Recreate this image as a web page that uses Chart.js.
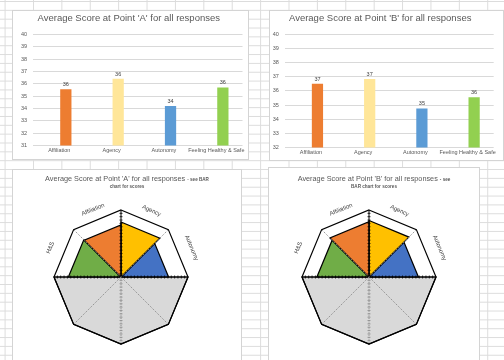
<!DOCTYPE html>
<html lang="en">
<head>
<meta charset="UTF-8">
<title>Average Score at Point A and B</title>
<script src="https://cdn.jsdelivr.net/npm/chart.js"></script>
<style>
    html, body { margin: 0; padding: 0; }
    body {
        width: 504px;
        height: 360px;
        overflow: hidden;
        position: relative;
        background-color: #fff;
        background-image:
            linear-gradient(to right, #dcdcdc 1px, transparent 1px),
            linear-gradient(to bottom, #dcdcdc 1px, transparent 1px);
        background-size: 28.4px 8.85px;
        background-position: 4.6px 1px;
        font-family: "Liberation Sans", Arial, sans-serif;
    }
    .box {
        position: absolute;
        background: #fff;
        border: 1px solid #d4d4d4;
        box-sizing: border-box;
    }
    .box canvas { position: absolute; left: 0; top: 0; }
    .rtitle {
        position: absolute;
        left: 0;
        right: 0;
        text-align: center;
        color: #595959;
        white-space: nowrap;
    }
    .rtitle.main { font-size: 7.3px; line-height: 9px; }
    .rtitle small, .rtitle.sub { font-size: 4.6px; line-height: 6px; font-weight: bold; }
</style>
</head>
<body>
    <div class="box" style="left:12px; top:10px; width:237px; height:150px;">
        <canvas id="barA" width="235" height="148"></canvas>
    </div>
    <div class="box" style="left:269px; top:10px; width:235px; height:151px;">
        <canvas id="barB" width="237" height="149" style="left:-4px;"></canvas>
    </div>
    <div class="box" style="left:12px; top:169px; width:230px; height:195px;">
        <canvas id="radarA" width="228" height="193"></canvas>
        <div class="rtitle main" style="top:3.5px;">Average Score at Point 'A' for all responses <small>- see BAR</small></div>
        <div class="rtitle sub" style="top:14px;">chart for scores</div>
    </div>
    <div class="box" style="left:268px; top:167px; width:212px; height:197px;">
        <canvas id="radarB" width="210" height="195"></canvas>
        <div class="rtitle main" style="top:5.5px;">Average Score at Point 'B' for all responses <small>- see</small></div>
        <div class="rtitle sub" style="top:15.5px;">BAR chart for scores</div>
    </div>

<script>
    // categories and scores
    const categories = ['Affiliation', 'Agency', 'Autonomy', 'Feeling Healthy & Safe'];
    const scoresA = [35.55, 36.4, 34.2, 35.7];
    const scoresB = [36.5, 36.85, 34.75, 35.55];
    const axisA = [31, 40];
    const axisB = [32, 40];
    const barColors = ['#ED7D31', '#FFE699', '#5B9BD5', '#92D050'];

    // radar (octagon) charts: 8 spokes, top half = the four scores
    const radarNames = ['Affiliation', 'Agency', 'Autonomy', 'H&S'];
    const radarColors = ['#ED7D31', '#FFC000', '#4472C4', '#70AD47'];
    const spokes = ['s0', 's1', 's2', 's3', 's4', 's5', 's6', 's7'];
    const wedgeSpokes = [[7, 0], [0, 1], [1, 2], [6, 7]];
    const radarRange = [20, 40];
    const lowerHalf = [20, 20, 40, 40, 40, 40, 40, 20];

    const FONT = '"Liberation Sans", Arial, sans-serif';
    // where the wedge names sit (spoke position, radius factor)
    const nameSpoke = [7.5, 0.55, 1.5, 6.5];
    const nameRadius = [1.09, 1.09, 1.14, 1.14];

    const valueLabels = {
        id: 'valueLabels',
        afterDatasetsDraw(chart) {
            const ctx = chart.ctx;
            const values = chart.data.datasets[1].data;
            ctx.save();
            ctx.font = '5.5px ' + FONT;
            ctx.fillStyle = '#404040';
            ctx.textAlign = 'center';
            ctx.textBaseline = 'bottom';
            chart.getDatasetMeta(1).data.forEach(function(bar, i) {
                ctx.fillText(Math.round(values[i]), bar.x, bar.y - 2);
            });
            ctx.restore();
        }
    };

    function barChart(id, values, range, title, pad) {
        return new Chart(document.getElementById(id), {
            type: 'bar',
            data: {
                labels: categories,
                datasets: [{
                    // empty first series, as in the sheet: pushes the bars right of the label
                    data: categories.map(function() { return null; }),
                    categoryPercentage: 0.5,
                    barPercentage: 0.86
                }, {
                    data: values,
                    backgroundColor: barColors,
                    categoryPercentage: 0.5,
                    barPercentage: 0.86
                }]
            },
            options: {
                responsive: false,
                animation: false,
                layout: { padding: pad },
                plugins: {
                    legend: { display: false },
                    tooltip: { enabled: false },
                    title: {
                        display: true,
                        text: title,
                        color: '#595959',
                        font: { family: FONT, size: 9.5, weight: 'normal' },
                        padding: { top: 1.5, bottom: 10.5 }
                    }
                },
                scales: {
                    x: {
                        grid: { display: false, drawTicks: false },
                        border: { display: false },
                        ticks: { color: '#595959', font: { family: FONT, size: 5.5 }, padding: 2, maxRotation: 0, autoSkip: false }
                    },
                    y: {
                        min: range[0],
                        max: range[1],
                        grid: { color: '#d9d9d9', drawTicks: false },
                        border: { display: false },
                        ticks: { stepSize: 1, color: '#595959', font: { family: FONT, size: 5.5 }, padding: 6 }
                    }
                }
            },
            plugins: [valueLabels]
        });
    }

    const radarExtras = {
        id: 'radarExtras',
        afterDraw(chart) {
            const scale = chart.scales.r;
            const ctx = chart.ctx;
            ctx.save();

            // small axis tick marks along the solid spokes
            [0, 2, 4, 6].forEach(function(s) {
                const ang = scale.getIndexAngle(s);
                const nx = Math.cos(ang), ny = Math.sin(ang);
                ctx.strokeStyle = s === 4 ? '#8c8c8c' : '#000';
                ctx.lineWidth = 0.8;
                for (let v = radarRange[0] + 1; v < radarRange[1]; v++) {
                    const p = scale.getPointPositionForValue(s, v);
                    ctx.beginPath();
                    ctx.moveTo(p.x - nx * 1.5, p.y - ny * 1.5);
                    ctx.lineTo(p.x + nx * 1.5, p.y + ny * 1.5);
                    ctx.stroke();
                }
            });

            ctx.font = '6px ' + FONT;
            ctx.fillStyle = '#404040';
            ctx.textAlign = 'center';
            ctx.textBaseline = 'middle';
            radarNames.forEach(function(name, i) {
                const p = scale.getPointPosition(nameSpoke[i], scale.drawingArea * nameRadius[i]);
                ctx.save();
                ctx.translate(p.x, p.y);
                ctx.rotate(scale.getIndexAngle(nameSpoke[i]));
                ctx.fillText(name, 0, 0);
                ctx.restore();
            });
            ctx.restore();
        }
    };

    function radarChart(id, values, pad) {
        const datasets = radarNames.map(function(name, i) {
            const data = spokes.map(function() { return radarRange[0]; });
            wedgeSpokes[i].forEach(function(s) { data[s] = values[i]; });
            return {
                label: name,
                data: data,
                backgroundColor: radarColors[i],
                borderColor: '#000',
                borderWidth: 1.2,
                fill: 'start',
                pointRadius: 0
            };
        });
        datasets.push({
            label: 'lower',
            data: lowerHalf,
            backgroundColor: '#d9d9d9',
            borderColor: '#000',
            borderWidth: 1.2,
            fill: 'start',
            pointRadius: 0
        });

        return new Chart(document.getElementById(id), {
            type: 'radar',
            data: { labels: spokes, datasets: datasets },
            options: {
                responsive: false,
                animation: false,
                layout: { padding: pad },
                plugins: { legend: { display: false }, tooltip: { enabled: false } },
                scales: {
                    r: {
                        min: radarRange[0],
                        max: radarRange[1],
                        ticks: { display: false, stepSize: 5 },
                        pointLabels: { display: false },
                        grid: {
                            z: 1,
                            lineWidth: 1.2,
                            color: function(c) { return c.tick && c.tick.value === radarRange[1] ? '#000' : 'rgba(0,0,0,0)'; }
                        },
                        angleLines: {
                            lineWidth: 1,
                            color: function(c) { return [0, 2, 6].includes(c.index) ? '#000' : '#8c8c8c'; },
                            borderDash: function(c) { return [0, 2, 6].includes(c.index) ? [] : [1.2, 1.2]; }
                        }
                    }
                }
            },
            plugins: [radarExtras]
        });
    }

    barChart('barA', scoresA, axisA, "Average Score at Point 'A' for all responses", { left: 2, right: 5.5, top: 0, bottom: 3 });
    barChart('barB', scoresB, axisB, "Average Score at Point 'B' for all responses", { left: 0.7, right: 9.3, top: 0, bottom: 2 });
    radarChart('radarA', scoresA, { left: 41, right: 53, top: 40, bottom: 19 });
    radarChart('radarB', scoresB, { left: 33, right: 43, top: 42, bottom: 19 });
</script>
</body>
</html>
